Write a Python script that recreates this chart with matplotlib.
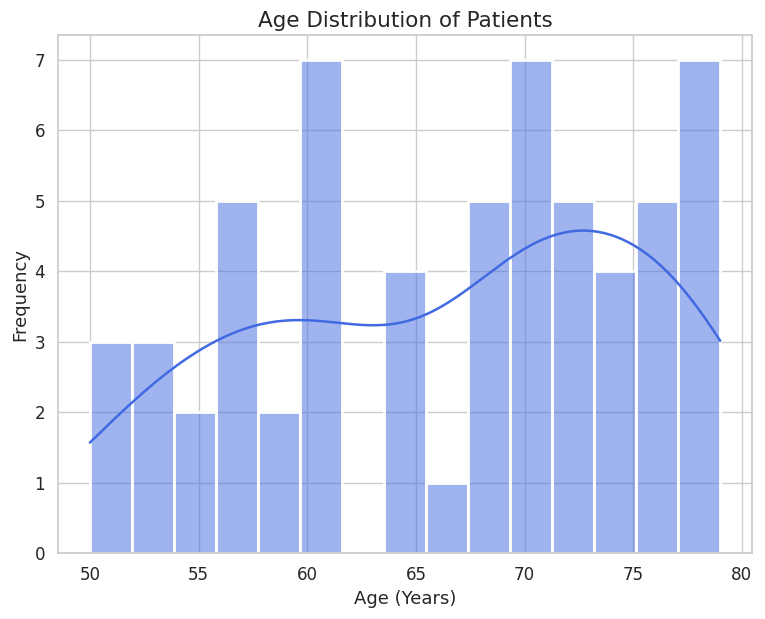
import numpy as np
import matplotlib
matplotlib.use("Agg")
import matplotlib.pyplot as plt
import seaborn as sns

# patient ages (15 bins over 50..79, two whole years per bin)
ages = [50, 50, 51,
        52, 53, 53,
        54, 55,
        56, 56, 57, 57, 57,
        58, 59,
        60, 60, 61, 61, 61, 61, 61,
        64, 64, 64, 65,
        66,
        68, 68, 69, 69, 69,
        70, 70, 70, 70, 71, 71, 71,
        72, 72, 72, 73, 73,
        74, 75, 75, 75,
        76, 76, 77, 77, 77,
        78, 78, 78, 79, 79, 79, 79]

title = "Age Distribution of Patients"
xlabel = "Age (Years)"
ylabel = "Frequency"

sns.set_theme(style="whitegrid", font_scale=1.1)

fig, ax = plt.subplots(figsize=(7.65, 6.19), dpi=100)
sns.histplot(ages, bins=15, kde=True, color="royalblue", ax=ax,
             linewidth=2, line_kws={"linewidth": 1.8})

ax.set_title(title, fontsize=15.5)
ax.set_xlabel(xlabel, fontsize=13)
ax.set_ylabel(ylabel, fontsize=13)

plt.tight_layout(pad=0.6)
plt.savefig("out.png")
